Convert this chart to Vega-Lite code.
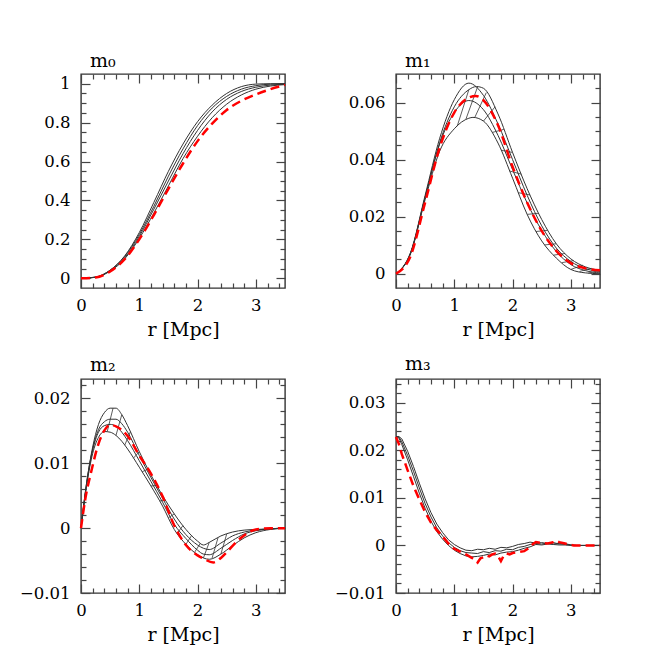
{
  "$schema": "https://vega.github.io/schema/vega-lite/v6.json",
  "background": "white",
  "padding": {"left": 18, "top": 51, "right": 5, "bottom": 5},
  "columns": 2,
  "spacing": {"row": 91, "column": 111},
  "bounds": "flush",
  "config": {
    "view": {"stroke": "#333", "strokeWidth": 1.4},
    "axis": {"domain": false, "grid": false, "labelFlush": false, "labelOverlap": false,
      "labelFont": "DejaVu Serif", "labelFontSize": 16.5, "labelColor": "#000",
      "tickColor": "#444", "tickWidth": 1.2,
      "titleFont": "DejaVu Serif", "titleFontSize": 19, "titleFontWeight": "normal", "titleColor": "#000"},
    "title": {"font": "DejaVu Serif", "fontSize": 19, "fontWeight": "normal", "anchor": "start", "frame": "group", "color": "#000"}
  },
  "datasets": {
    "curves": [
      {"p":"m0","s":"A","r":0,"v":0},{"p":"m0","s":"A","r":0.25,"v":0.006},{"p":"m0","s":"A","r":0.5,"v":0.042},{"p":"m0","s":"A","r":0.75,"v":0.115},{"p":"m0","s":"A","r":1,"v":0.235},{"p":"m0","s":"A","r":1.25,"v":0.39},{"p":"m0","s":"A","r":1.5,"v":0.55},{"p":"m0","s":"A","r":1.75,"v":0.69},{"p":"m0","s":"A","r":2,"v":0.805},{"p":"m0","s":"A","r":2.25,"v":0.89},{"p":"m0","s":"A","r":2.5,"v":0.95},{"p":"m0","s":"A","r":2.75,"v":0.985},{"p":"m0","s":"A","r":3,"v":0.998},{"p":"m0","s":"A","r":3.25,"v":1},{"p":"m0","s":"A","r":3.5,"v":1},
      {"p":"m0","s":"B","r":0,"v":0},{"p":"m0","s":"B","r":0.25,"v":0.006},{"p":"m0","s":"B","r":0.5,"v":0.041},{"p":"m0","s":"B","r":0.75,"v":0.112},{"p":"m0","s":"B","r":1,"v":0.225},{"p":"m0","s":"B","r":1.25,"v":0.37},{"p":"m0","s":"B","r":1.5,"v":0.525},{"p":"m0","s":"B","r":1.75,"v":0.665},{"p":"m0","s":"B","r":2,"v":0.785},{"p":"m0","s":"B","r":2.25,"v":0.875},{"p":"m0","s":"B","r":2.5,"v":0.935},{"p":"m0","s":"B","r":2.75,"v":0.972},{"p":"m0","s":"B","r":3,"v":0.99},{"p":"m0","s":"B","r":3.25,"v":0.998},{"p":"m0","s":"B","r":3.5,"v":1},
      {"p":"m0","s":"C","r":0,"v":0},{"p":"m0","s":"C","r":0.25,"v":0.005},{"p":"m0","s":"C","r":0.5,"v":0.039},{"p":"m0","s":"C","r":0.75,"v":0.105},{"p":"m0","s":"C","r":1,"v":0.215},{"p":"m0","s":"C","r":1.25,"v":0.355},{"p":"m0","s":"C","r":1.5,"v":0.5},{"p":"m0","s":"C","r":1.75,"v":0.64},{"p":"m0","s":"C","r":2,"v":0.76},{"p":"m0","s":"C","r":2.25,"v":0.855},{"p":"m0","s":"C","r":2.5,"v":0.92},{"p":"m0","s":"C","r":2.75,"v":0.96},{"p":"m0","s":"C","r":3,"v":0.982},{"p":"m0","s":"C","r":3.25,"v":0.993},{"p":"m0","s":"C","r":3.5,"v":0.998},
      {"p":"m0","s":"D","r":0,"v":0},{"p":"m0","s":"D","r":0.25,"v":0.005},{"p":"m0","s":"D","r":0.5,"v":0.037},{"p":"m0","s":"D","r":0.75,"v":0.1},{"p":"m0","s":"D","r":1,"v":0.205},{"p":"m0","s":"D","r":1.25,"v":0.335},{"p":"m0","s":"D","r":1.5,"v":0.475},{"p":"m0","s":"D","r":1.75,"v":0.615},{"p":"m0","s":"D","r":2,"v":0.73},{"p":"m0","s":"D","r":2.25,"v":0.825},{"p":"m0","s":"D","r":2.5,"v":0.895},{"p":"m0","s":"D","r":2.75,"v":0.942},{"p":"m0","s":"D","r":3,"v":0.972},{"p":"m0","s":"D","r":3.25,"v":0.988},{"p":"m0","s":"D","r":3.5,"v":0.996},

      {"p":"m1","s":"A","r":0,"v":0},{"p":"m1","s":"A","r":0.25,"v":0.0075},{"p":"m1","s":"A","r":0.5,"v":0.0275},{"p":"m1","s":"A","r":0.75,"v":0.0475},{"p":"m1","s":"A","r":1,"v":0.061},{"p":"m1","s":"A","r":1.25,"v":0.0668},{"p":"m1","s":"A","r":1.5,"v":0.0625},{"p":"m1","s":"A","r":1.75,"v":0.0525},{"p":"m1","s":"A","r":2,"v":0.04},{"p":"m1","s":"A","r":2.25,"v":0.0275},{"p":"m1","s":"A","r":2.5,"v":0.0168},{"p":"m1","s":"A","r":2.75,"v":0.009},{"p":"m1","s":"A","r":3,"v":0.0043},{"p":"m1","s":"A","r":3.25,"v":0.0018},{"p":"m1","s":"A","r":3.5,"v":0.0008},
      {"p":"m1","s":"B","r":0,"v":0},{"p":"m1","s":"B","r":0.25,"v":0.0072},{"p":"m1","s":"B","r":0.5,"v":0.0268},{"p":"m1","s":"B","r":0.75,"v":0.046},{"p":"m1","s":"B","r":1,"v":0.0585},{"p":"m1","s":"B","r":1.25,"v":0.0645},{"p":"m1","s":"B","r":1.38,"v":0.0656},{"p":"m1","s":"B","r":1.5,"v":0.065},{"p":"m1","s":"B","r":1.75,"v":0.056},{"p":"m1","s":"B","r":2,"v":0.0425},{"p":"m1","s":"B","r":2.25,"v":0.0298},{"p":"m1","s":"B","r":2.5,"v":0.019},{"p":"m1","s":"B","r":2.75,"v":0.0105},{"p":"m1","s":"B","r":3,"v":0.0052},{"p":"m1","s":"B","r":3.25,"v":0.0024},{"p":"m1","s":"B","r":3.5,"v":0.0012},
      {"p":"m1","s":"C","r":0,"v":0},{"p":"m1","s":"C","r":0.25,"v":0.0072},{"p":"m1","s":"C","r":0.5,"v":0.0268},{"p":"m1","s":"C","r":0.75,"v":0.0455},{"p":"m1","s":"C","r":1,"v":0.0565},{"p":"m1","s":"C","r":1.25,"v":0.0607},{"p":"m1","s":"C","r":1.5,"v":0.0575},{"p":"m1","s":"C","r":1.75,"v":0.0485},{"p":"m1","s":"C","r":2,"v":0.0365},{"p":"m1","s":"C","r":2.25,"v":0.0248},{"p":"m1","s":"C","r":2.5,"v":0.0152},{"p":"m1","s":"C","r":2.75,"v":0.0078},{"p":"m1","s":"C","r":3,"v":0.0032},{"p":"m1","s":"C","r":3.25,"v":0.0011},{"p":"m1","s":"C","r":3.5,"v":0.0003},
      {"p":"m1","s":"D","r":0,"v":0},{"p":"m1","s":"D","r":0.25,"v":0.007},{"p":"m1","s":"D","r":0.5,"v":0.026},{"p":"m1","s":"D","r":0.75,"v":0.043},{"p":"m1","s":"D","r":1,"v":0.0508},{"p":"m1","s":"D","r":1.25,"v":0.0545},{"p":"m1","s":"D","r":1.32,"v":0.0548},{"p":"m1","s":"D","r":1.5,"v":0.0535},{"p":"m1","s":"D","r":1.75,"v":0.0458},{"p":"m1","s":"D","r":2,"v":0.0335},{"p":"m1","s":"D","r":2.25,"v":0.0208},{"p":"m1","s":"D","r":2.5,"v":0.0115},{"p":"m1","s":"D","r":2.75,"v":0.0055},{"p":"m1","s":"D","r":3,"v":0.0015},{"p":"m1","s":"D","r":3.25,"v":0.0003},{"p":"m1","s":"D","r":3.5,"v":0},

      {"p":"m2","s":"A","r":0,"v":0},{"p":"m2","s":"A","r":0.1,"v":0.0072},{"p":"m2","s":"A","r":0.2,"v":0.0125},{"p":"m2","s":"A","r":0.3,"v":0.016},{"p":"m2","s":"A","r":0.4,"v":0.0178},{"p":"m2","s":"A","r":0.5,"v":0.0185},{"p":"m2","s":"A","r":0.6,"v":0.0185},{"p":"m2","s":"A","r":0.7,"v":0.0175},{"p":"m2","s":"A","r":0.8,"v":0.0158},{"p":"m2","s":"A","r":1,"v":0.0118},{"p":"m2","s":"A","r":1.2,"v":0.0082},{"p":"m2","s":"A","r":1.4,"v":0.005},{"p":"m2","s":"A","r":1.6,"v":0.0022},{"p":"m2","s":"A","r":1.8,"v":-0.0002},{"p":"m2","s":"A","r":2,"v":-0.002},{"p":"m2","s":"A","r":2.1,"v":-0.0026},{"p":"m2","s":"A","r":2.2,"v":-0.0022},{"p":"m2","s":"A","r":2.4,"v":-0.0012},{"p":"m2","s":"A","r":2.6,"v":-0.0006},{"p":"m2","s":"A","r":2.8,"v":-0.0003},{"p":"m2","s":"A","r":3,"v":-0.0002},{"p":"m2","s":"A","r":3.25,"v":-0.0001},{"p":"m2","s":"A","r":3.5,"v":0},
      {"p":"m2","s":"B","r":0,"v":0},{"p":"m2","s":"B","r":0.1,"v":0.0072},{"p":"m2","s":"B","r":0.2,"v":0.0122},{"p":"m2","s":"B","r":0.3,"v":0.0152},{"p":"m2","s":"B","r":0.4,"v":0.0164},{"p":"m2","s":"B","r":0.5,"v":0.0168},{"p":"m2","s":"B","r":0.6,"v":0.0168},{"p":"m2","s":"B","r":0.7,"v":0.0161},{"p":"m2","s":"B","r":0.8,"v":0.0148},{"p":"m2","s":"B","r":1,"v":0.0112},{"p":"m2","s":"B","r":1.2,"v":0.0078},{"p":"m2","s":"B","r":1.4,"v":0.0046},{"p":"m2","s":"B","r":1.6,"v":0.0014},{"p":"m2","s":"B","r":1.8,"v":-0.001},{"p":"m2","s":"B","r":2,"v":-0.0026},{"p":"m2","s":"B","r":2.1,"v":-0.0031},{"p":"m2","s":"B","r":2.2,"v":-0.0033},{"p":"m2","s":"B","r":2.4,"v":-0.0023},{"p":"m2","s":"B","r":2.6,"v":-0.0012},{"p":"m2","s":"B","r":2.8,"v":-0.0006},{"p":"m2","s":"B","r":3,"v":-0.0003},{"p":"m2","s":"B","r":3.25,"v":-0.0001},{"p":"m2","s":"B","r":3.5,"v":0},
      {"p":"m2","s":"C","r":0,"v":0},{"p":"m2","s":"C","r":0.1,"v":0.007},{"p":"m2","s":"C","r":0.2,"v":0.012},{"p":"m2","s":"C","r":0.3,"v":0.0148},{"p":"m2","s":"C","r":0.4,"v":0.0158},{"p":"m2","s":"C","r":0.5,"v":0.016},{"p":"m2","s":"C","r":0.6,"v":0.0157},{"p":"m2","s":"C","r":0.7,"v":0.0148},{"p":"m2","s":"C","r":0.8,"v":0.0135},{"p":"m2","s":"C","r":1,"v":0.0104},{"p":"m2","s":"C","r":1.2,"v":0.0072},{"p":"m2","s":"C","r":1.4,"v":0.004},{"p":"m2","s":"C","r":1.6,"v":0.0006},{"p":"m2","s":"C","r":1.8,"v":-0.0016},{"p":"m2","s":"C","r":2,"v":-0.0034},{"p":"m2","s":"C","r":2.1,"v":-0.004},{"p":"m2","s":"C","r":2.2,"v":-0.0041},{"p":"m2","s":"C","r":2.4,"v":-0.0031},{"p":"m2","s":"C","r":2.6,"v":-0.0019},{"p":"m2","s":"C","r":2.8,"v":-0.0009},{"p":"m2","s":"C","r":3,"v":-0.0004},{"p":"m2","s":"C","r":3.25,"v":-0.0001},{"p":"m2","s":"C","r":3.5,"v":0},
      {"p":"m2","s":"D","r":0,"v":0},{"p":"m2","s":"D","r":0.1,"v":0.0068},{"p":"m2","s":"D","r":0.2,"v":0.0115},{"p":"m2","s":"D","r":0.3,"v":0.014},{"p":"m2","s":"D","r":0.4,"v":0.0149},{"p":"m2","s":"D","r":0.5,"v":0.0148},{"p":"m2","s":"D","r":0.6,"v":0.0143},{"p":"m2","s":"D","r":0.7,"v":0.0134},{"p":"m2","s":"D","r":0.8,"v":0.0122},{"p":"m2","s":"D","r":1,"v":0.0094},{"p":"m2","s":"D","r":1.2,"v":0.0065},{"p":"m2","s":"D","r":1.4,"v":0.0034},{"p":"m2","s":"D","r":1.6,"v":-0.0002},{"p":"m2","s":"D","r":1.8,"v":-0.0025},{"p":"m2","s":"D","r":2,"v":-0.0041},{"p":"m2","s":"D","r":2.1,"v":-0.0046},{"p":"m2","s":"D","r":2.2,"v":-0.0048},{"p":"m2","s":"D","r":2.4,"v":-0.004},{"p":"m2","s":"D","r":2.6,"v":-0.0027},{"p":"m2","s":"D","r":2.8,"v":-0.0015},{"p":"m2","s":"D","r":3,"v":-0.0007},{"p":"m2","s":"D","r":3.25,"v":-0.0002},{"p":"m2","s":"D","r":3.5,"v":0},

      {"p":"m3","s":"A","r":0,"v":0.0229},{"p":"m3","s":"A","r":0.05,"v":0.0229},{"p":"m3","s":"A","r":0.1,"v":0.0224},{"p":"m3","s":"A","r":0.2,"v":0.0198},{"p":"m3","s":"A","r":0.3,"v":0.0166},{"p":"m3","s":"A","r":0.4,"v":0.0131},{"p":"m3","s":"A","r":0.5,"v":0.0098},{"p":"m3","s":"A","r":0.6,"v":0.0069},{"p":"m3","s":"A","r":0.7,"v":0.0045},{"p":"m3","s":"A","r":0.8,"v":0.0027},{"p":"m3","s":"A","r":0.9,"v":0.0012},{"p":"m3","s":"A","r":1,"v":0.0002},{"p":"m3","s":"A","r":1.1,"v":-0.0005},{"p":"m3","s":"A","r":1.2,"v":-0.001},{"p":"m3","s":"A","r":1.3,"v":-0.0011},{"p":"m3","s":"A","r":1.4,"v":-0.0008},{"p":"m3","s":"A","r":1.5,"v":-0.0009},{"p":"m3","s":"A","r":1.6,"v":-0.0006},{"p":"m3","s":"A","r":1.7,"v":-0.0008},{"p":"m3","s":"A","r":1.8,"v":-0.0004},{"p":"m3","s":"A","r":1.9,"v":-0.0005},{"p":"m3","s":"A","r":2,"v":-0.0002},{"p":"m3","s":"A","r":2.1,"v":0.0002},{"p":"m3","s":"A","r":2.2,"v":0.0004},{"p":"m3","s":"A","r":2.3,"v":0.0007},{"p":"m3","s":"A","r":2.4,"v":0.0005},{"p":"m3","s":"A","r":2.5,"v":0.0006},{"p":"m3","s":"A","r":2.6,"v":0.0004},{"p":"m3","s":"A","r":2.7,"v":0.0006},{"p":"m3","s":"A","r":2.8,"v":0.0003},{"p":"m3","s":"A","r":2.9,"v":0.0004},{"p":"m3","s":"A","r":3,"v":0.0001},{"p":"m3","s":"A","r":3.1,"v":0},{"p":"m3","s":"A","r":3.5,"v":0},
      {"p":"m3","s":"B","r":0,"v":0.0229},{"p":"m3","s":"B","r":0.05,"v":0.0228},{"p":"m3","s":"B","r":0.1,"v":0.0218},{"p":"m3","s":"B","r":0.2,"v":0.0189},{"p":"m3","s":"B","r":0.3,"v":0.0156},{"p":"m3","s":"B","r":0.4,"v":0.0121},{"p":"m3","s":"B","r":0.5,"v":0.0088},{"p":"m3","s":"B","r":0.6,"v":0.006},{"p":"m3","s":"B","r":0.7,"v":0.0037},{"p":"m3","s":"B","r":0.8,"v":0.002},{"p":"m3","s":"B","r":0.9,"v":0.0006},{"p":"m3","s":"B","r":1,"v":-0.0004},{"p":"m3","s":"B","r":1.1,"v":-0.0011},{"p":"m3","s":"B","r":1.2,"v":-0.0015},{"p":"m3","s":"B","r":1.3,"v":-0.0016},{"p":"m3","s":"B","r":1.4,"v":-0.0017},{"p":"m3","s":"B","r":1.5,"v":-0.0013},{"p":"m3","s":"B","r":1.6,"v":-0.0015},{"p":"m3","s":"B","r":1.7,"v":-0.0011},{"p":"m3","s":"B","r":1.8,"v":-0.0012},{"p":"m3","s":"B","r":1.9,"v":-0.0008},{"p":"m3","s":"B","r":2,"v":-0.0009},{"p":"m3","s":"B","r":2.1,"v":-0.0004},{"p":"m3","s":"B","r":2.2,"v":-0.0002},{"p":"m3","s":"B","r":2.3,"v":0.0002},{"p":"m3","s":"B","r":2.4,"v":0.0004},{"p":"m3","s":"B","r":2.5,"v":0.0003},{"p":"m3","s":"B","r":2.6,"v":0.0005},{"p":"m3","s":"B","r":2.7,"v":0.0003},{"p":"m3","s":"B","r":2.8,"v":0.0004},{"p":"m3","s":"B","r":2.9,"v":0.0002},{"p":"m3","s":"B","r":3,"v":0.0001},{"p":"m3","s":"B","r":3.1,"v":0},{"p":"m3","s":"B","r":3.5,"v":0},
      {"p":"m3","s":"C","r":0,"v":0.0229},{"p":"m3","s":"C","r":0.05,"v":0.0226},{"p":"m3","s":"C","r":0.1,"v":0.0212},{"p":"m3","s":"C","r":0.2,"v":0.018},{"p":"m3","s":"C","r":0.3,"v":0.0145},{"p":"m3","s":"C","r":0.4,"v":0.011},{"p":"m3","s":"C","r":0.5,"v":0.0078},{"p":"m3","s":"C","r":0.6,"v":0.0051},{"p":"m3","s":"C","r":0.7,"v":0.0029},{"p":"m3","s":"C","r":0.8,"v":0.0013},{"p":"m3","s":"C","r":0.9,"v":0},{"p":"m3","s":"C","r":1,"v":-0.001},{"p":"m3","s":"C","r":1.1,"v":-0.0017},{"p":"m3","s":"C","r":1.2,"v":-0.0022},{"p":"m3","s":"C","r":1.3,"v":-0.0024},{"p":"m3","s":"C","r":1.4,"v":-0.0023},{"p":"m3","s":"C","r":1.5,"v":-0.0021},{"p":"m3","s":"C","r":1.6,"v":-0.0018},{"p":"m3","s":"C","r":1.7,"v":-0.002},{"p":"m3","s":"C","r":1.8,"v":-0.0016},{"p":"m3","s":"C","r":1.9,"v":-0.0014},{"p":"m3","s":"C","r":2,"v":-0.0013},{"p":"m3","s":"C","r":2.1,"v":-0.001},{"p":"m3","s":"C","r":2.2,"v":-0.0006},{"p":"m3","s":"C","r":2.3,"v":-0.0003},{"p":"m3","s":"C","r":2.4,"v":0.0002},{"p":"m3","s":"C","r":2.5,"v":0.0001},{"p":"m3","s":"C","r":2.6,"v":0.0003},{"p":"m3","s":"C","r":2.7,"v":0.0002},{"p":"m3","s":"C","r":2.8,"v":0.0001},{"p":"m3","s":"C","r":2.9,"v":0.0001},{"p":"m3","s":"C","r":3,"v":0},{"p":"m3","s":"C","r":3.5,"v":0}
    ],
    "rungs": [
      {"p":"m1","k":1,"r":1.05,"v":0.0517},{"p":"m1","k":1,"r":1.25,"v":0.0645},
      {"p":"m1","k":2,"r":1.2,"v":0.0542},{"p":"m1","k":2,"r":1.4,"v":0.0655},
      {"p":"m1","k":3,"r":1.35,"v":0.0547},{"p":"m1","k":3,"r":1.55,"v":0.0635},
      {"p":"m1","k":4,"r":1.5,"v":0.0535},{"p":"m1","k":4,"r":1.7,"v":0.0585},
      {"p":"m1","k":5,"r":1.65,"v":0.0495},{"p":"m1","k":5,"r":1.85,"v":0.0506},
      {"p":"m1","k":6,"r":1.8,"v":0.0433},{"p":"m1","k":6,"r":2,"v":0.0425},
      {"p":"m1","k":7,"r":1.95,"v":0.036},{"p":"m1","k":7,"r":2.15,"v":0.0349},
      {"p":"m1","k":8,"r":2.1,"v":0.0284},{"p":"m1","k":8,"r":2.3,"v":0.0276},
      {"p":"m1","k":9,"r":2.25,"v":0.0208},{"p":"m1","k":9,"r":2.45,"v":0.0212},
      {"p":"m1","k":10,"r":2.4,"v":0.0148},{"p":"m1","k":10,"r":2.6,"v":0.0152},
      {"p":"m1","k":11,"r":2.55,"v":0.0101},{"p":"m1","k":11,"r":2.75,"v":0.0105},
      {"p":"m1","k":12,"r":2.7,"v":0.0065},{"p":"m1","k":12,"r":2.9,"v":0.0071},
      {"p":"m1","k":13,"r":2.85,"v":0.0039},{"p":"m1","k":13,"r":3.05,"v":0.0046},
      {"p":"m1","k":14,"r":3,"v":0.0015},{"p":"m1","k":14,"r":3.2,"v":0.003},
      {"p":"m1","k":15,"r":3.15,"v":0.0008},{"p":"m1","k":15,"r":3.35,"v":0.0019},
      {"p":"m1","k":16,"r":3.3,"v":0.0002},{"p":"m1","k":16,"r":3.5,"v":0.0012},
      {"p":"m2","k":1,"r":0.45,"v":0.0149},{"p":"m2","k":1,"r":0.55,"v":0.0185},
      {"p":"m2","k":2,"r":0.6,"v":0.0143},{"p":"m2","k":2,"r":0.7,"v":0.0175},
      {"p":"m2","k":3,"r":0.75,"v":0.0128},{"p":"m2","k":3,"r":0.85,"v":0.0149},
      {"p":"m2","k":4,"r":0.9,"v":0.0108},{"p":"m2","k":4,"r":1,"v":0.0118},
      {"p":"m2","k":5,"r":1.05,"v":0.0087},{"p":"m2","k":5,"r":1.15,"v":0.0091},
      {"p":"m2","k":6,"r":1.2,"v":0.0065},{"p":"m2","k":6,"r":1.3,"v":0.0066},
      {"p":"m2","k":7,"r":1.35,"v":0.0042},{"p":"m2","k":7,"r":1.45,"v":0.0043},
      {"p":"m2","k":8,"r":1.5,"v":0.0016},{"p":"m2","k":8,"r":1.6,"v":0.0022},
      {"p":"m2","k":9,"r":1.65,"v":-0.0008},{"p":"m2","k":9,"r":1.75,"v":0.0004},
      {"p":"m2","k":10,"r":1.8,"v":-0.0025},{"p":"m2","k":10,"r":1.9,"v":-0.0011},
      {"p":"m2","k":11,"r":1.95,"v":-0.0037},{"p":"m2","k":11,"r":2.05,"v":-0.0023},
      {"p":"m2","k":12,"r":2.1,"v":-0.0046},{"p":"m2","k":12,"r":2.2,"v":-0.0022},
      {"p":"m2","k":13,"r":2.25,"v":-0.0046},{"p":"m2","k":13,"r":2.35,"v":-0.0015},
      {"p":"m2","k":14,"r":2.4,"v":-0.004},{"p":"m2","k":14,"r":2.5,"v":-0.0009}
    ],
    "red": [
      {"p":"m0","r":0,"v":0},{"p":"m0","r":0.25,"v":0.004},{"p":"m0","r":0.5,"v":0.035},{"p":"m0","r":0.75,"v":0.098},{"p":"m0","r":1,"v":0.2},{"p":"m0","r":1.25,"v":0.325},{"p":"m0","r":1.5,"v":0.46},{"p":"m0","r":1.75,"v":0.59},{"p":"m0","r":2,"v":0.705},{"p":"m0","r":2.25,"v":0.795},{"p":"m0","r":2.5,"v":0.865},{"p":"m0","r":2.75,"v":0.912},{"p":"m0","r":3,"v":0.945},{"p":"m0","r":3.25,"v":0.972},{"p":"m0","r":3.5,"v":0.994},
      {"p":"m1","r":0,"v":0},{"p":"m1","r":0.25,"v":0.0062},{"p":"m1","r":0.5,"v":0.025},{"p":"m1","r":0.75,"v":0.0442},{"p":"m1","r":1,"v":0.0565},{"p":"m1","r":1.25,"v":0.0617},{"p":"m1","r":1.37,"v":0.0623},{"p":"m1","r":1.5,"v":0.0608},{"p":"m1","r":1.75,"v":0.052},{"p":"m1","r":2,"v":0.0375},{"p":"m1","r":2.25,"v":0.025},{"p":"m1","r":2.5,"v":0.015},{"p":"m1","r":2.75,"v":0.008},{"p":"m1","r":3,"v":0.0037},{"p":"m1","r":3.25,"v":0.0019},{"p":"m1","r":3.5,"v":0.0012},
      {"p":"m2","r":0,"v":0},{"p":"m2","r":0.07,"v":0.0043},{"p":"m2","r":0.18,"v":0.0089},{"p":"m2","r":0.3,"v":0.013},{"p":"m2","r":0.41,"v":0.0152},{"p":"m2","r":0.5,"v":0.0159},{"p":"m2","r":0.6,"v":0.0157},{"p":"m2","r":0.8,"v":0.0142},{"p":"m2","r":1,"v":0.0112},{"p":"m2","r":1.2,"v":0.0084},{"p":"m2","r":1.4,"v":0.0049},{"p":"m2","r":1.6,"v":0.0004},{"p":"m2","r":1.8,"v":-0.0026},{"p":"m2","r":2,"v":-0.0042},{"p":"m2","r":2.1,"v":-0.0047},{"p":"m2","r":2.27,"v":-0.0053},{"p":"m2","r":2.4,"v":-0.0046},{"p":"m2","r":2.5,"v":-0.0037},{"p":"m2","r":2.73,"v":-0.0016},{"p":"m2","r":3,"v":-0.0002},{"p":"m2","r":3.25,"v":0},{"p":"m2","r":3.5,"v":0},
      {"p":"m3","r":0,"v":0.0228},{"p":"m3","r":0.05,"v":0.0213},{"p":"m3","r":0.1,"v":0.0192},{"p":"m3","r":0.2,"v":0.0158},{"p":"m3","r":0.3,"v":0.0125},{"p":"m3","r":0.4,"v":0.0097},{"p":"m3","r":0.5,"v":0.007},{"p":"m3","r":0.6,"v":0.0048},{"p":"m3","r":0.7,"v":0.0032},{"p":"m3","r":0.8,"v":0.0019},{"p":"m3","r":0.9,"v":0.0004},{"p":"m3","r":1,"v":-0.0007},{"p":"m3","r":1.1,"v":-0.0013},{"p":"m3","r":1.2,"v":-0.0019},{"p":"m3","r":1.3,"v":-0.0026},{"p":"m3","r":1.35,"v":-0.003},{"p":"m3","r":1.4,"v":-0.0036},{"p":"m3","r":1.45,"v":-0.0027},{"p":"m3","r":1.5,"v":-0.0025},{"p":"m3","r":1.55,"v":-0.0021},{"p":"m3","r":1.6,"v":-0.0023},{"p":"m3","r":1.65,"v":-0.0019},{"p":"m3","r":1.7,"v":-0.0017},{"p":"m3","r":1.75,"v":-0.0022},{"p":"m3","r":1.8,"v":-0.0033},{"p":"m3","r":1.85,"v":-0.0021},{"p":"m3","r":1.9,"v":-0.0017},{"p":"m3","r":1.95,"v":-0.0019},{"p":"m3","r":2,"v":-0.0016},{"p":"m3","r":2.1,"v":-0.0014},{"p":"m3","r":2.2,"v":-0.0012},{"p":"m3","r":2.3,"v":-0.0004},{"p":"m3","r":2.35,"v":0.0003},{"p":"m3","r":2.4,"v":0.0007},{"p":"m3","r":2.5,"v":0.0005},{"p":"m3","r":2.6,"v":0.0004},{"p":"m3","r":2.7,"v":0.0007},{"p":"m3","r":2.75,"v":0.001},{"p":"m3","r":2.8,"v":0.0007},{"p":"m3","r":2.9,"v":0.0004},{"p":"m3","r":3,"v":0.0001},{"p":"m3","r":3.05,"v":0},{"p":"m3","r":3.5,"v":0}
    ]
  },
  "concat": [
    {
      "title": {"text": "m₀", "dx": 9, "offset": 2},
      "width": 204, "height": 214,
      "resolve": {"axis": {"x": "independent", "y": "independent"}},
      "layer": [
        {"data": {"name": "curves"}, "transform": [{"filter": "datum.p == 'm0'"}],
         "mark": {"type": "line", "interpolate": "monotone", "stroke": "#333", "strokeWidth": 1},
         "encoding": {
           "x": {"field": "r", "type": "quantitative", "scale": {"domain": [0, 3.5], "nice": false, "zero": false},
             "axis": {"orient": "bottom", "values": [0,0.2,0.4,0.6,0.8,1,1.2,1.4,1.6,1.8,2,2.2,2.4,2.6,2.8,3,3.2,3.4], "format": "~g", "labelExpr": "datum.value % 1 == 0 ? datum.label : ''", "tickSize": {"condition": {"test": "datum.value % 1 == 0", "value": -9}, "value": -5}, "labelPadding": 18, "title": "r [Mpc]", "titlePadding": 3}},
           "y": {"field": "v", "type": "quantitative", "scale": {"domain": [-0.05, 1.05], "nice": false, "zero": false},
             "axis": {"orient": "left", "values": [0,0.05,0.1,0.15,0.2,0.25,0.3,0.35,0.4,0.45,0.5,0.55,0.6,0.65,0.7,0.75,0.8,0.85,0.9,0.95,1], "format": "~g", "labelExpr": "indexof([0,0.2,0.4,0.6,0.8,1], datum.value) >= 0 ? datum.label : ''", "tickSize": {"condition": {"test": "indexof([0,0.2,0.4,0.6,0.8,1], datum.value) >= 0", "value": -9}, "value": -5}, "labelPadding": 20, "title": null}},
           "detail": {"field": "s"}
         }},
        {"data": {"name": "red"}, "transform": [{"filter": "datum.p == 'm0'"}],
         "mark": {"type": "line", "interpolate": "monotone", "stroke": "#ff0000", "strokeWidth": 2.5, "strokeDash": [9, 5]},
         "encoding": {
           "x": {"field": "r", "type": "quantitative", "scale": {"domain": [0, 3.5], "nice": false, "zero": false},
             "axis": {"orient": "top", "values": [0,0.2,0.4,0.6,0.8,1,1.2,1.4,1.6,1.8,2,2.2,2.4,2.6,2.8,3,3.2,3.4], "labels": false, "tickSize": {"condition": {"test": "datum.value % 1 == 0", "value": -9}, "value": -5}, "title": null}},
           "y": {"field": "v", "type": "quantitative", "scale": {"domain": [-0.05, 1.05], "nice": false, "zero": false},
             "axis": {"orient": "right", "values": [0,0.05,0.1,0.15,0.2,0.25,0.3,0.35,0.4,0.45,0.5,0.55,0.6,0.65,0.7,0.75,0.8,0.85,0.9,0.95,1], "labels": false, "tickSize": {"condition": {"test": "indexof([0,0.2,0.4,0.6,0.8,1], datum.value) >= 0", "value": -9}, "value": -5}, "title": null}}
         }}
      ]
    },
    {
      "title": {"text": "m₁", "dx": 9, "offset": 2},
      "width": 204, "height": 214,
      "resolve": {"axis": {"x": "independent", "y": "independent"}},
      "layer": [
        {"data": {"name": "curves"}, "transform": [{"filter": "datum.p == 'm1'"}],
         "mark": {"type": "line", "interpolate": "monotone", "stroke": "#333", "strokeWidth": 1},
         "encoding": {
           "x": {"field": "r", "type": "quantitative", "scale": {"domain": [0, 3.5], "nice": false, "zero": false},
             "axis": {"orient": "bottom", "values": [0,0.2,0.4,0.6,0.8,1,1.2,1.4,1.6,1.8,2,2.2,2.4,2.6,2.8,3,3.2,3.4], "format": "~g", "labelExpr": "datum.value % 1 == 0 ? datum.label : ''", "tickSize": {"condition": {"test": "datum.value % 1 == 0", "value": -9}, "value": -5}, "labelPadding": 18, "title": "r [Mpc]", "titlePadding": 3}},
           "y": {"field": "v", "type": "quantitative", "scale": {"domain": [-0.005, 0.07], "nice": false, "zero": false},
             "axis": {"orient": "left", "values": [0,0.005,0.01,0.015,0.02,0.025,0.03,0.035,0.04,0.045,0.05,0.055,0.06,0.065], "format": "~g", "labelExpr": "indexof([0,0.02,0.04,0.06], datum.value) >= 0 ? datum.label : ''", "tickSize": {"condition": {"test": "indexof([0,0.02,0.04,0.06], datum.value) >= 0", "value": -9}, "value": -5}, "labelPadding": 20, "title": null}},
           "detail": {"field": "s"}
         }},
        {"data": {"name": "rungs"}, "transform": [{"filter": "datum.p == 'm1'"}],
         "mark": {"type": "line", "stroke": "#333", "strokeWidth": 0.8},
         "encoding": {
           "x": {"field": "r", "type": "quantitative", "scale": {"domain": [0, 3.5], "nice": false, "zero": false}, "axis": null},
           "y": {"field": "v", "type": "quantitative", "scale": {"domain": [-0.005, 0.07], "nice": false, "zero": false}, "axis": null},
           "detail": {"field": "k"}
         }},
        {"data": {"name": "red"}, "transform": [{"filter": "datum.p == 'm1'"}],
         "mark": {"type": "line", "interpolate": "monotone", "stroke": "#ff0000", "strokeWidth": 2.5, "strokeDash": [9, 5]},
         "encoding": {
           "x": {"field": "r", "type": "quantitative", "scale": {"domain": [0, 3.5], "nice": false, "zero": false},
             "axis": {"orient": "top", "values": [0,0.2,0.4,0.6,0.8,1,1.2,1.4,1.6,1.8,2,2.2,2.4,2.6,2.8,3,3.2,3.4], "labels": false, "tickSize": {"condition": {"test": "datum.value % 1 == 0", "value": -9}, "value": -5}, "title": null}},
           "y": {"field": "v", "type": "quantitative", "scale": {"domain": [-0.005, 0.07], "nice": false, "zero": false},
             "axis": {"orient": "right", "values": [0,0.005,0.01,0.015,0.02,0.025,0.03,0.035,0.04,0.045,0.05,0.055,0.06,0.065], "labels": false, "tickSize": {"condition": {"test": "indexof([0,0.02,0.04,0.06], datum.value) >= 0", "value": -9}, "value": -5}, "title": null}}
         }}
      ]
    },
    {
      "title": {"text": "m₂", "dx": 9, "offset": 2},
      "width": 204, "height": 214,
      "resolve": {"axis": {"x": "independent", "y": "independent"}},
      "layer": [
        {"data": {"name": "curves"}, "transform": [{"filter": "datum.p == 'm2'"}],
         "mark": {"type": "line", "interpolate": "monotone", "stroke": "#333", "strokeWidth": 1},
         "encoding": {
           "x": {"field": "r", "type": "quantitative", "scale": {"domain": [0, 3.5], "nice": false, "zero": false},
             "axis": {"orient": "bottom", "values": [0,0.2,0.4,0.6,0.8,1,1.2,1.4,1.6,1.8,2,2.2,2.4,2.6,2.8,3,3.2,3.4], "format": "~g", "labelExpr": "datum.value % 1 == 0 ? datum.label : ''", "tickSize": {"condition": {"test": "datum.value % 1 == 0", "value": -9}, "value": -5}, "labelPadding": 18, "title": "r [Mpc]", "titlePadding": 3}},
           "y": {"field": "v", "type": "quantitative", "scale": {"domain": [-0.01, 0.023], "nice": false, "zero": false},
             "axis": {"orient": "left", "values": [-0.01,-0.008,-0.006,-0.004,-0.002,0,0.002,0.004,0.006,0.008,0.01,0.012,0.014,0.016,0.018,0.02,0.022], "format": "~g", "labelExpr": "indexof([-0.01,0,0.01,0.02], datum.value) >= 0 ? datum.label : ''", "tickSize": {"condition": {"test": "indexof([-0.01,0,0.01,0.02], datum.value) >= 0", "value": -9}, "value": -5}, "labelPadding": 20, "title": null}},
           "detail": {"field": "s"}
         }},
        {"data": {"name": "rungs"}, "transform": [{"filter": "datum.p == 'm2'"}],
         "mark": {"type": "line", "stroke": "#333", "strokeWidth": 0.8},
         "encoding": {
           "x": {"field": "r", "type": "quantitative", "scale": {"domain": [0, 3.5], "nice": false, "zero": false}, "axis": null},
           "y": {"field": "v", "type": "quantitative", "scale": {"domain": [-0.01, 0.023], "nice": false, "zero": false}, "axis": null},
           "detail": {"field": "k"}
         }},
        {"data": {"name": "red"}, "transform": [{"filter": "datum.p == 'm2'"}],
         "mark": {"type": "line", "interpolate": "monotone", "stroke": "#ff0000", "strokeWidth": 2.5, "strokeDash": [9, 5]},
         "encoding": {
           "x": {"field": "r", "type": "quantitative", "scale": {"domain": [0, 3.5], "nice": false, "zero": false},
             "axis": {"orient": "top", "values": [0,0.2,0.4,0.6,0.8,1,1.2,1.4,1.6,1.8,2,2.2,2.4,2.6,2.8,3,3.2,3.4], "labels": false, "tickSize": {"condition": {"test": "datum.value % 1 == 0", "value": -9}, "value": -5}, "title": null}},
           "y": {"field": "v", "type": "quantitative", "scale": {"domain": [-0.01, 0.023], "nice": false, "zero": false},
             "axis": {"orient": "right", "values": [-0.01,-0.008,-0.006,-0.004,-0.002,0,0.002,0.004,0.006,0.008,0.01,0.012,0.014,0.016,0.018,0.02,0.022], "labels": false, "tickSize": {"condition": {"test": "indexof([-0.01,0,0.01,0.02], datum.value) >= 0", "value": -9}, "value": -5}, "title": null}}
         }}
      ]
    },
    {
      "title": {"text": "m₃", "dx": 9, "offset": 2},
      "width": 204, "height": 214,
      "resolve": {"axis": {"x": "independent", "y": "independent"}},
      "layer": [
        {"data": {"name": "curves"}, "transform": [{"filter": "datum.p == 'm3'"}],
         "mark": {"type": "line", "interpolate": "linear", "stroke": "#333", "strokeWidth": 1},
         "encoding": {
           "x": {"field": "r", "type": "quantitative", "scale": {"domain": [0, 3.5], "nice": false, "zero": false},
             "axis": {"orient": "bottom", "values": [0,0.2,0.4,0.6,0.8,1,1.2,1.4,1.6,1.8,2,2.2,2.4,2.6,2.8,3,3.2,3.4], "format": "~g", "labelExpr": "datum.value % 1 == 0 ? datum.label : ''", "tickSize": {"condition": {"test": "datum.value % 1 == 0", "value": -9}, "value": -5}, "labelPadding": 18, "title": "r [Mpc]", "titlePadding": 3}},
           "y": {"field": "v", "type": "quantitative", "scale": {"domain": [-0.01, 0.035], "nice": false, "zero": false},
             "axis": {"orient": "left", "values": [-0.01,-0.008,-0.006,-0.004,-0.002,0,0.002,0.004,0.006,0.008,0.01,0.012,0.014,0.016,0.018,0.02,0.022,0.024,0.026,0.028,0.03,0.032,0.034], "format": "~g", "labelExpr": "indexof([-0.01,0,0.01,0.02,0.03], datum.value) >= 0 ? datum.label : ''", "tickSize": {"condition": {"test": "indexof([-0.01,0,0.01,0.02,0.03], datum.value) >= 0", "value": -9}, "value": -5}, "labelPadding": 20, "title": null}},
           "detail": {"field": "s"}
         }},
        {"data": {"name": "red"}, "transform": [{"filter": "datum.p == 'm3'"}],
         "mark": {"type": "line", "interpolate": "linear", "stroke": "#ff0000", "strokeWidth": 2.5, "strokeDash": [9, 5]},
         "encoding": {
           "x": {"field": "r", "type": "quantitative", "scale": {"domain": [0, 3.5], "nice": false, "zero": false},
             "axis": {"orient": "top", "values": [0,0.2,0.4,0.6,0.8,1,1.2,1.4,1.6,1.8,2,2.2,2.4,2.6,2.8,3,3.2,3.4], "labels": false, "tickSize": {"condition": {"test": "datum.value % 1 == 0", "value": -9}, "value": -5}, "title": null}},
           "y": {"field": "v", "type": "quantitative", "scale": {"domain": [-0.01, 0.035], "nice": false, "zero": false},
             "axis": {"orient": "right", "values": [-0.01,-0.008,-0.006,-0.004,-0.002,0,0.002,0.004,0.006,0.008,0.01,0.012,0.014,0.016,0.018,0.02,0.022,0.024,0.026,0.028,0.03,0.032,0.034], "labels": false, "tickSize": {"condition": {"test": "indexof([-0.01,0,0.01,0.02,0.03], datum.value) >= 0", "value": -9}, "value": -5}, "title": null}}
         }}
      ]
    }
  ]
}
